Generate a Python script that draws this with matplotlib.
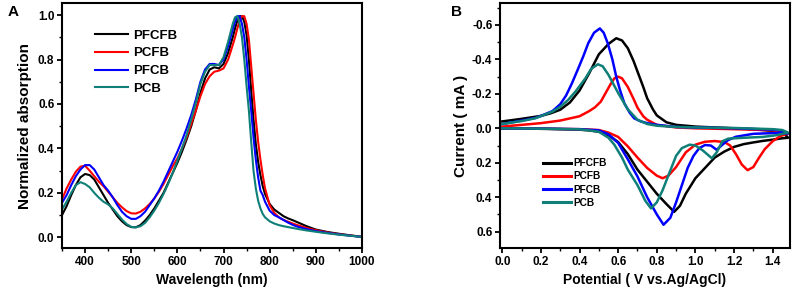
import matplotlib
matplotlib.use("Agg")
import matplotlib.pyplot as plt
from matplotlib.ticker import MultipleLocator

plt.rcParams['font.family'] = ['Liberation Sans', 'DejaVu Sans']
plt.rcParams['font.weight'] = 'bold'
plt.rcParams['axes.unicode_minus'] = False

# ---------------- Panel A data (UV-vis) ----------------
wavelength = [350, 360, 370, 380, 390, 400, 410, 420, 430, 440, 450, 460, 470, 480, 490,
              500, 510, 520, 530, 540, 550, 560, 570, 580, 590, 600, 610, 620, 630, 640,
              650, 660, 670, 680, 690, 700, 710, 720, 725, 730, 735, 740, 745, 750, 755,
              760, 765, 770, 775, 780, 785, 790, 800, 810, 820, 830, 840, 850, 860, 880,
              900, 925, 950, 975, 1000]

abs_PFCFB = [0.10, 0.14, 0.19, 0.235, 0.27, 0.285, 0.28, 0.26, 0.225, 0.19, 0.155, 0.125, 0.095, 0.072, 0.055,
             0.046, 0.045, 0.055, 0.075, 0.10, 0.13, 0.165, 0.20, 0.245, 0.29, 0.335, 0.385, 0.44, 0.50, 0.57,
             0.65, 0.715, 0.755, 0.765, 0.76, 0.78, 0.83, 0.90, 0.94, 0.975, 0.995, 0.995, 0.97, 0.91, 0.80,
             0.66, 0.53, 0.42, 0.34, 0.28, 0.23, 0.195, 0.15, 0.125, 0.11, 0.095, 0.085, 0.077, 0.068, 0.05,
             0.035, 0.024, 0.016, 0.009, 0.002]

abs_PCFB = [0.17, 0.22, 0.26, 0.295, 0.318, 0.322, 0.30, 0.275, 0.25, 0.23, 0.205, 0.18, 0.155, 0.135, 0.118,
            0.108, 0.107, 0.115, 0.13, 0.15, 0.175, 0.205, 0.24, 0.28, 0.32, 0.355, 0.40, 0.45, 0.51, 0.57,
            0.635, 0.69, 0.725, 0.745, 0.75, 0.76, 0.80, 0.865, 0.90, 0.94, 0.975, 0.995, 0.995, 0.96, 0.89,
            0.77, 0.65, 0.53, 0.43, 0.35, 0.28, 0.22, 0.145, 0.11, 0.09, 0.078, 0.07, 0.062, 0.055, 0.042,
            0.032, 0.022, 0.014, 0.008, 0.002]

abs_PFCB = [0.155, 0.19, 0.235, 0.275, 0.305, 0.325, 0.325, 0.305, 0.27, 0.235, 0.21, 0.18, 0.145, 0.115, 0.095,
            0.083, 0.083, 0.095, 0.115, 0.145, 0.175, 0.21, 0.25, 0.295, 0.34, 0.385, 0.435, 0.49, 0.55, 0.62,
            0.70, 0.755, 0.78, 0.78, 0.775, 0.80, 0.86, 0.935, 0.97, 0.995, 0.995, 0.96, 0.90, 0.80, 0.68,
            0.57, 0.45, 0.35, 0.27, 0.21, 0.19, 0.16, 0.12, 0.10, 0.09, 0.078, 0.066, 0.056, 0.048, 0.037,
            0.028, 0.02, 0.013, 0.007, 0.002]

abs_PCB = [0.125, 0.16, 0.20, 0.235, 0.248, 0.24, 0.225, 0.20, 0.178, 0.16, 0.148, 0.13, 0.105, 0.08, 0.06,
           0.047, 0.045, 0.05, 0.065, 0.09, 0.12, 0.155, 0.195, 0.24, 0.29, 0.345, 0.40, 0.46, 0.53, 0.605,
           0.69, 0.745, 0.775, 0.775, 0.775, 0.81, 0.88, 0.96, 0.99, 0.995, 0.96, 0.90, 0.80, 0.68, 0.57,
           0.43, 0.30, 0.22, 0.165, 0.13, 0.105, 0.09, 0.072, 0.062, 0.055, 0.05, 0.046, 0.042, 0.038, 0.031,
           0.025, 0.018, 0.012, 0.007, 0.002]

# ---------------- Panel B data (cyclic voltammetry) ----------------
# lower (anodic) branch, forward scan
V_low_PFCFB = [0.0, 0.1, 0.2, 0.3, 0.4, 0.45, 0.5, 0.55, 0.6, 0.65, 0.7, 0.75, 0.8, 0.85, 0.89, 0.92, 0.95,
               1.0, 1.05, 1.1, 1.15, 1.2, 1.25, 1.3, 1.35, 1.4, 1.45, 1.48]
I_low_PFCFB = [0.0, 0.0, 0.003, 0.005, 0.008, 0.012, 0.02, 0.04, 0.08, 0.15, 0.24, 0.31, 0.38, 0.44, 0.485, 0.45, 0.38,
               0.29, 0.23, 0.17, 0.135, 0.108, 0.092, 0.082, 0.073, 0.066, 0.058, 0.055]
# upper (cathodic) branch, reverse scan
V_up_PFCFB = [1.48, 1.46, 1.4, 1.3, 1.2, 1.1, 1.0, 0.9, 0.85, 0.8, 0.78, 0.75, 0.73, 0.7, 0.68, 0.65, 0.62,
              0.59, 0.55, 0.5, 0.45, 0.4, 0.35, 0.3, 0.25, 0.2, 0.1, 0.0]
I_up_PFCFB = [0.055, 0.03, 0.015, 0.005, 0.0, -0.005, -0.01, -0.02, -0.035, -0.075, -0.11, -0.175, -0.24, -0.33,
              -0.39, -0.465, -0.51, -0.523, -0.49, -0.43, -0.32, -0.22, -0.15, -0.108, -0.087, -0.072, -0.055, -0.04]

V_low_PCFB = [0.0, 0.2, 0.4, 0.5, 0.55, 0.6, 0.65, 0.7, 0.75, 0.8, 0.83, 0.86, 0.9, 0.95, 1.0, 1.05, 1.1,
              1.15, 1.18, 1.21, 1.24, 1.27, 1.3, 1.33, 1.36, 1.4, 1.44, 1.48]
I_low_PCFB = [0.0, 0.002, 0.005, 0.01, 0.025, 0.05, 0.105, 0.17, 0.23, 0.275, 0.29, 0.275, 0.225, 0.14, 0.095,
              0.078, 0.074, 0.08, 0.1, 0.15, 0.21, 0.243, 0.225, 0.17, 0.12, 0.075, 0.045, 0.03]
V_up_PCFB = [1.48, 1.45, 1.4, 1.3, 1.2, 1.0, 0.9, 0.8, 0.75, 0.73, 0.7, 0.68, 0.65, 0.62, 0.6, 0.58, 0.56,
             0.53, 0.51, 0.48, 0.45, 0.4, 0.3, 0.2, 0.1, 0.0]
I_up_PCFB = [0.03, 0.02, 0.012, 0.008, 0.005, 0.0, -0.005, -0.02, -0.05, -0.07, -0.12, -0.17, -0.24, -0.29,
             -0.30, -0.29, -0.255, -0.195, -0.155, -0.122, -0.1, -0.07, -0.045, -0.03, -0.02, -0.01]

V_low_PFCB = [0.0, 0.2, 0.4, 0.5, 0.55, 0.6, 0.65, 0.7, 0.75, 0.8, 0.835, 0.87, 0.9, 0.93, 0.96, 0.99, 1.02,
              1.05, 1.08, 1.11, 1.14, 1.17, 1.21, 1.3, 1.4, 1.48]
I_low_PFCB = [0.0, 0.002, 0.005, 0.012, 0.035, 0.085, 0.18, 0.28, 0.40, 0.50, 0.56, 0.52, 0.43, 0.33, 0.23, 0.16,
              0.115, 0.097, 0.10, 0.125, 0.095, 0.068, 0.049, 0.032, 0.028, 0.03]
V_up_PFCB = [1.48, 1.45, 1.4, 1.2, 1.0, 0.9, 0.8, 0.75, 0.717, 0.683, 0.66, 0.632, 0.61, 0.59, 0.57, 0.546,
             0.525, 0.505, 0.475, 0.445, 0.42, 0.39, 0.36, 0.33, 0.3, 0.26, 0.2, 0.17, 0.1, 0.0]
I_up_PFCB = [0.03, 0.015, 0.008, 0.0, -0.005, -0.008, -0.02, -0.03, -0.04, -0.058, -0.09, -0.145, -0.22, -0.30,
             -0.40, -0.494, -0.555, -0.58, -0.555, -0.494, -0.42, -0.339, -0.26, -0.19, -0.14, -0.1, -0.072,
             -0.06, -0.045, -0.025]

V_low_PCB = [0.0, 0.2, 0.4, 0.45, 0.5, 0.55, 0.58, 0.62, 0.65, 0.7, 0.74, 0.77, 0.8, 0.83, 0.87, 0.9, 0.93,
             0.97, 1.0, 1.04, 1.085, 1.11, 1.14, 1.17, 1.25, 1.35, 1.42, 1.48]
I_low_PCB = [0.0, 0.002, 0.006, 0.012, 0.02, 0.055, 0.095, 0.17, 0.24, 0.33, 0.42, 0.465, 0.43, 0.36, 0.245, 0.16,
             0.115, 0.095, 0.10, 0.13, 0.174, 0.14, 0.075, 0.06, 0.055, 0.05, 0.04, 0.025]
V_up_PCB = [1.48, 1.45, 1.4, 1.2, 1.0, 0.9, 0.8, 0.75, 0.7, 0.65, 0.6, 0.55, 0.52, 0.495, 0.46, 0.43, 0.38,
            0.34, 0.3, 0.26, 0.17, 0.1, 0.0]
I_up_PCB = [0.025, 0.01, 0.005, -0.002, -0.005, -0.008, -0.015, -0.025, -0.05, -0.11, -0.205, -0.31, -0.36,
            -0.372, -0.345, -0.29, -0.215, -0.164, -0.125, -0.097, -0.058, -0.042, -0.025]

names = ['PFCFB', 'PCFB', 'PFCB', 'PCB']
colors = ['#000000', '#ff0000', '#0000ff', '#0f7f78']

fig = plt.figure(figsize=(8.04, 2.96), dpi=100)
axA = fig.add_axes([0.0771, 0.1622, 0.3731, 0.8267])
axB = fig.add_axes([0.6219, 0.1622, 0.3607, 0.8267])

spectra = [abs_PFCFB, abs_PCFB, abs_PFCB, abs_PCB]
for y, c, n in zip(spectra, colors, names):
    axA.plot(wavelength, y, color=c, lw=1.5, label=n)

axA.set_xlim(350, 1000)
axA.set_ylim(-0.048, 1.053)
axA.xaxis.set_major_locator(MultipleLocator(100))
axA.xaxis.set_minor_locator(MultipleLocator(50))
axA.yaxis.set_major_locator(MultipleLocator(0.2))
axA.yaxis.set_minor_locator(MultipleLocator(0.1))
axA.yaxis.set_major_formatter(matplotlib.ticker.FormatStrFormatter('%.1f'))
axA.set_xlabel('Wavelength (nm)', fontsize=10, fontweight='bold', labelpad=4)
axA.set_ylabel('Normalized absorption', fontsize=11, fontweight='bold', labelpad=4)
legA = axA.legend(loc='upper left', bbox_to_anchor=(0.087, 0.92), frameon=False, borderpad=0,
                  handlelength=2.55, handletextpad=0.35, labelspacing=0.42,
                  prop={'weight': 'bold', 'size': 9.5})

curves = [
    (V_low_PFCFB, I_low_PFCFB, V_up_PFCFB, I_up_PFCFB),
    (V_low_PCFB, I_low_PCFB, V_up_PCFB, I_up_PCFB),
    (V_low_PFCB, I_low_PFCB, V_up_PFCB, I_up_PFCB),
    (V_low_PCB, I_low_PCB, V_up_PCB, I_up_PCB),
]
for (vl, il, vu, iu), c, n in zip(curves, colors, names):
    axB.plot(list(vl) + list(vu), list(il) + list(iu), color=c, lw=1.8, label=n)

axB.set_xlim(-0.012, 1.49)
axB.set_ylim(0.695, -0.726)
axB.xaxis.set_major_locator(MultipleLocator(0.2))
axB.xaxis.set_minor_locator(MultipleLocator(0.1))
axB.yaxis.set_major_locator(MultipleLocator(0.2))
axB.yaxis.set_minor_locator(MultipleLocator(0.1))
axB.xaxis.set_major_formatter(matplotlib.ticker.FormatStrFormatter('%.1f'))
axB.yaxis.set_major_formatter(matplotlib.ticker.FormatStrFormatter('%.1f'))
axB.set_xlabel('Potential ( V vs.Ag/AgCl)', fontsize=10, fontweight='bold', labelpad=4)
axB.set_ylabel('Current ( mA )', fontsize=11, fontweight='bold', labelpad=3)
legB = axB.legend(loc='upper left', bbox_to_anchor=(0.131, 0.388), frameon=False, borderpad=0,
                  handlelength=2.8, handletextpad=0.2, labelspacing=0.32,
                  prop={'weight': 'bold', 'size': 7.3})
for line in legB.get_lines():
    line.set_linewidth(2.2)

for ax in (axA, axB):
    for s in ax.spines.values():
        s.set_linewidth(1.5)
    ax.tick_params(which='major', direction='out', length=3.5, width=1.3, labelsize=8.5, pad=2)
    ax.tick_params(which='minor', direction='out', length=2, width=1.0)
    for lab in ax.get_xticklabels() + ax.get_yticklabels():
        lab.set_fontweight('bold')

fig.text(13 / 804, 1 - 12.5 / 296, 'A', fontsize=11, fontweight='bold', ha='center', va='center')
fig.text(457 / 804, 1 - 12 / 296, 'B', fontsize=11, fontweight='bold', ha='center', va='center')

fig.savefig('out.png', dpi=100)
